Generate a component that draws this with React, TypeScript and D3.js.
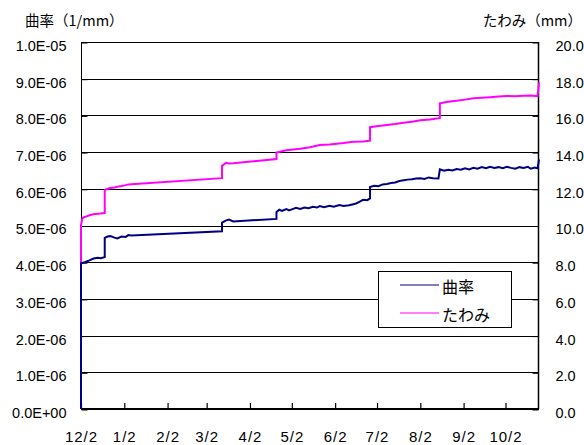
import React, { useRef, useEffect } from "react";
import * as d3 from "d3";

// 曲率 (1/mm) readings
const curvDates = [
  "2006-12-02", "2006-12-02", "2006-12-04", "2006-12-06", "2006-12-08", "2006-12-11",
  "2006-12-14", "2006-12-16", "2006-12-18", "2006-12-19", "2006-12-19", "2006-12-21",
  "2006-12-23", "2006-12-26", "2006-12-28", "2006-12-31", "2007-01-03", "2007-01-05",
  "2007-01-07", "2007-03-13", "2007-03-13", "2007-03-16", "2007-03-18", "2007-03-21",
  "2007-04-21", "2007-04-21", "2007-04-23", "2007-04-25", "2007-04-28", "2007-04-30",
  "2007-05-02", "2007-05-05", "2007-05-08", "2007-05-11", "2007-05-14", "2007-05-17",
  "2007-05-20", "2007-05-22", "2007-05-25", "2007-05-29", "2007-06-01", "2007-06-05",
  "2007-06-08", "2007-06-12", "2007-06-15", "2007-06-17", "2007-06-19", "2007-06-22",
  "2007-06-25", "2007-06-27", "2007-06-27", "2007-06-30", "2007-07-03", "2007-07-06",
  "2007-07-09", "2007-07-12", "2007-07-15", "2007-07-18", "2007-07-21", "2007-07-24",
  "2007-07-27", "2007-07-30", "2007-08-02", "2007-08-05", "2007-08-08", "2007-08-11",
  "2007-08-15", "2007-08-16", "2007-08-19", "2007-08-22", "2007-08-25", "2007-08-28",
  "2007-08-31", "2007-09-03", "2007-09-06", "2007-09-09", "2007-09-12", "2007-09-15",
  "2007-09-18", "2007-09-21", "2007-09-24", "2007-09-27", "2007-09-30", "2007-10-03",
  "2007-10-06", "2007-10-09", "2007-10-12", "2007-10-15", "2007-10-18", "2007-10-20",
  "2007-10-23", "2007-10-25", "2007-10-26",
];
const curvValues = [
  0, 3.97e-6, 3.99e-6, 4.02e-6, 4.05e-6, 4.1e-6,
  4.12e-6, 4.11e-6, 4.13e-6, 4.14e-6, 4.66e-6, 4.7e-6,
  4.71e-6, 4.67e-6, 4.65e-6, 4.7e-6, 4.69e-6, 4.74e-6,
  4.73e-6, 4.84e-6, 5.08e-6, 5.14e-6, 5.16e-6, 5.11e-6,
  5.18e-6, 5.37e-6, 5.43e-6, 5.4e-6, 5.45e-6, 5.41e-6,
  5.44e-6, 5.48e-6, 5.45e-6, 5.49e-6, 5.47e-6, 5.51e-6,
  5.49e-6, 5.53e-6, 5.5e-6, 5.54e-6, 5.51e-6, 5.56e-6,
  5.53e-6, 5.55e-6, 5.58e-6, 5.6e-6, 5.64e-6, 5.7e-6,
  5.69e-6, 5.74e-6, 6.05e-6, 6.08e-6, 6.07e-6, 6.12e-6,
  6.13e-6, 6.16e-6, 6.17e-6, 6.21e-6, 6.23e-6, 6.25e-6,
  6.26e-6, 6.28e-6, 6.29e-6, 6.27e-6, 6.31e-6, 6.29e-6,
  6.28e-6, 6.53e-6, 6.49e-6, 6.52e-6, 6.5e-6, 6.54e-6,
  6.52e-6, 6.56e-6, 6.53e-6, 6.57e-6, 6.55e-6, 6.59e-6,
  6.56e-6, 6.6e-6, 6.57e-6, 6.59e-6, 6.56e-6, 6.6e-6,
  6.57e-6, 6.55e-6, 6.59e-6, 6.57e-6, 6.6e-6, 6.55e-6,
  6.58e-6, 6.56e-6, 6.8e-6,
];

// たわみ (mm) readings
const deflDates = [
  "2006-12-02", "2006-12-02", "2006-12-03", "2006-12-04", "2006-12-06", "2006-12-08",
  "2006-12-11", "2006-12-14", "2006-12-16", "2006-12-19", "2006-12-19", "2006-12-21",
  "2006-12-23", "2006-12-26", "2006-12-28", "2006-12-31", "2007-01-03", "2007-01-05",
  "2007-01-07", "2007-03-13", "2007-03-13", "2007-03-16", "2007-03-18", "2007-03-21",
  "2007-04-21", "2007-04-21", "2007-04-28", "2007-05-08", "2007-05-15", "2007-05-22",
  "2007-05-29", "2007-06-08", "2007-06-15", "2007-06-22", "2007-06-27", "2007-06-27",
  "2007-07-03", "2007-07-09", "2007-07-15", "2007-07-21", "2007-07-27", "2007-08-02",
  "2007-08-09", "2007-08-15", "2007-08-16", "2007-08-16", "2007-08-22", "2007-08-28",
  "2007-09-03", "2007-09-09", "2007-09-15", "2007-09-21", "2007-09-27", "2007-10-03",
  "2007-10-09", "2007-10-15", "2007-10-20", "2007-10-25", "2007-10-26",
];
const deflValues = [
  0, 10.03, 10.39, 10.45, 10.5, 10.56,
  10.61, 10.64, 10.65, 10.68, 11.93, 12.0,
  12.04, 12.07, 12.11, 12.15, 12.2, 12.24,
  12.25, 12.58, 13.25, 13.42, 13.38, 13.39,
  13.62, 13.98, 14.1, 14.18, 14.27, 14.39,
  14.42, 14.5, 14.57, 14.58, 14.62, 15.36,
  15.42, 15.48, 15.53, 15.6, 15.66, 15.73,
  15.78, 15.84, 15.86, 16.66, 16.74, 16.8,
  16.86, 16.93, 16.96, 16.99, 17.03, 17.06,
  17.05, 17.07, 17.08, 17.05, 17.8,
];

const leftTicks = [0, 1e-6, 2e-6, 3e-6, 4e-6, 5e-6, 6e-6, 7e-6, 8e-6, 9e-6, 1e-5];
const leftTickLabels = [
  "0.0E+00", "1.0E-06", "2.0E-06", "3.0E-06", "4.0E-06", "5.0E-06",
  "6.0E-06", "7.0E-06", "8.0E-06", "9.0E-06", "1.0E-05",
];
const rightTicks = [0, 2, 4, 6, 8, 10, 12, 14, 16, 18, 20];
const rightTickLabels = ["0.0", "2.0", "4.0", "6.0", "8.0", "10.0", "12.0", "14.0", "16.0", "18.0", "20.0"];
const monthTicks = [
  "2006-12-02", "2007-01-02", "2007-02-02", "2007-03-02", "2007-04-02", "2007-05-02",
  "2007-06-02", "2007-07-02", "2007-08-02", "2007-09-02", "2007-10-02",
];
const monthLabels = ["12/2", "1/2", "2/2", "3/2", "4/2", "5/2", "6/2", "7/2", "8/2", "9/2", "10/2"];
const dateRange = ["2006-12-02", "2007-10-26"];
const seriesNames = ["曲率", "たわみ"];
const leftTitle = "曲率（1/mm）";
const rightTitle = "たわみ（mm）";

const NAVY = "#000080";
const MAGENTA = "#ff00ff";
const NUM_FONT = "'Liberation Sans', Arial, sans-serif";
const JP_FONT = "'Noto Sans CJK JP', sans-serif";

const App = () => {
  const svgRef = useRef<SVGSVGElement>(null);
  const W = 584, H = 445;
  const m = { top: 42, right: 45, bottom: 36, left: 81 };

  useEffect(() => {
    const svg = d3.select(svgRef.current);
    svg.selectAll("*").remove();
    const parse = d3.timeParse("%Y-%m-%d");

    const x = d3.scaleTime()
      .domain(dateRange.map(d => parse(d) as Date))
      .range([m.left, W - m.right]);
    const yL = d3.scaleLinear().domain([0, 1e-5]).range([H - m.bottom, m.top]);
    const yR = d3.scaleLinear().domain([0, 20]).range([H - m.bottom, m.top]);
    const x0 = m.left, x1 = W - m.right, yb = H - m.bottom;

    // grid
    svg.append("g")
      .selectAll("line")
      .data(leftTicks)
      .join("line")
      .attr("x1", x0).attr("x2", x1)
      .attr("y1", d => Math.round(yL(d)) + 0.5)
      .attr("y2", d => Math.round(yL(d)) + 0.5)
      .attr("stroke", "#000").attr("stroke-width", 1);

    // left axis
    const gl = svg.append("g").attr("transform", `translate(${x0 + 0.5},0.5)`)
      .call(d3.axisLeft(yL).tickValues(leftTicks).tickSize(-6).tickPadding(15)
        .tickFormat((d, i) => leftTickLabels[i]));
    gl.select(".domain").remove();
    gl.selectAll("line").attr("stroke", "#000");
    gl.selectAll("text").attr("font-family", NUM_FONT).attr("font-size", 14.5)
      .attr("fill", "#000").attr("dy", "0.55em");

    // right axis
    const gr = svg.append("g").attr("transform", `translate(${x1 - 0.5},0.5)`)
      .call(d3.axisRight(yR).tickValues(rightTicks).tickSize(-6).tickPadding(17)
        .tickFormat((d, i) => rightTickLabels[i]));
    gr.select(".domain").remove();
    gr.selectAll("line").attr("stroke", "#000");
    gr.selectAll("text").attr("font-family", NUM_FONT).attr("font-size", 14.5)
      .attr("fill", "#000").attr("dy", "0.55em");

    // bottom axis
    const gb = svg.append("g").attr("transform", `translate(0,${yb})`)
      .call(d3.axisBottom(x).tickValues(monthTicks.map(d => parse(d) as Date)).tickSize(-6)
        .tickFormat((d, i) => monthLabels[i]));
    gb.select(".domain").remove();
    gb.selectAll("line").attr("stroke", "#000").attr("stroke-width", 1.2);
    gb.selectAll("text").attr("font-family", NUM_FONT).attr("font-size", 15)
      .attr("fill", "#000").attr("y", 33).attr("dy", 0).attr("letter-spacing", 1);

    // frame
    svg.append("line").attr("x1", x0 + 0.5).attr("x2", x0 + 0.5).attr("y1", m.top).attr("y2", yb)
      .attr("stroke", "#000");
    svg.append("line").attr("x1", x1 - 0.5).attr("x2", x1 - 0.5).attr("y1", m.top).attr("y2", yb)
      .attr("stroke", "#000").attr("stroke-width", 1.5);
    svg.append("line").attr("x1", x0).attr("x2", x1).attr("y1", yb).attr("y2", yb)
      .attr("stroke", "#000").attr("stroke-width", 2);

    // series
    const curv = curvDates.map((d, i) => ({ t: parse(d) as Date, v: curvValues[i] }));
    const defl = deflDates.map((d, i) => ({ t: parse(d) as Date, v: deflValues[i] }));
    svg.append("path")
      .datum(defl)
      .attr("d", d3.line<{ t: Date; v: number }>().x(d => x(d.t)).y(d => yR(d.v)))
      .attr("fill", "none").attr("stroke", MAGENTA).attr("stroke-width", 2);
    svg.append("path")
      .datum(curv)
      .attr("d", d3.line<{ t: Date; v: number }>().x(d => x(d.t)).y(d => yL(d.v)))
      .attr("fill", "none").attr("stroke", NAVY).attr("stroke-width", 2);

    // titles
    svg.append("text").attr("x", 25).attr("y", 26).attr("font-family", JP_FONT)
      .attr("font-size", 14.5).text(leftTitle);
    svg.append("text").attr("x", 582).attr("y", 26).attr("text-anchor", "end")
      .attr("font-family", JP_FONT).attr("font-size", 14.5).text(rightTitle);

    // legend
    const lg = svg.append("g");
    lg.append("rect").attr("x", 378.5).attr("y", 271.5).attr("width", 133).attr("height", 56)
      .attr("fill", "#fff").attr("stroke", "#000");
    [NAVY, MAGENTA].forEach((c, i) => {
      const ly = 285 + i * 28;
      lg.append("line").attr("x1", 400).attr("x2", 439).attr("y1", ly).attr("y2", ly)
        .attr("stroke", c).attr("stroke-width", 1.2);
      lg.append("text").attr("x", 442).attr("y", ly + 1).attr("dominant-baseline", "central")
        .attr("font-family", JP_FONT).attr("font-size", 16).text(seriesNames[i]);
    });
  }, []);

  return (
    <svg ref={svgRef} width={W} height={H}
      style={{ position: "absolute", left: 0, top: 0, background: "#fff" }} />
  );
};

export default App;
